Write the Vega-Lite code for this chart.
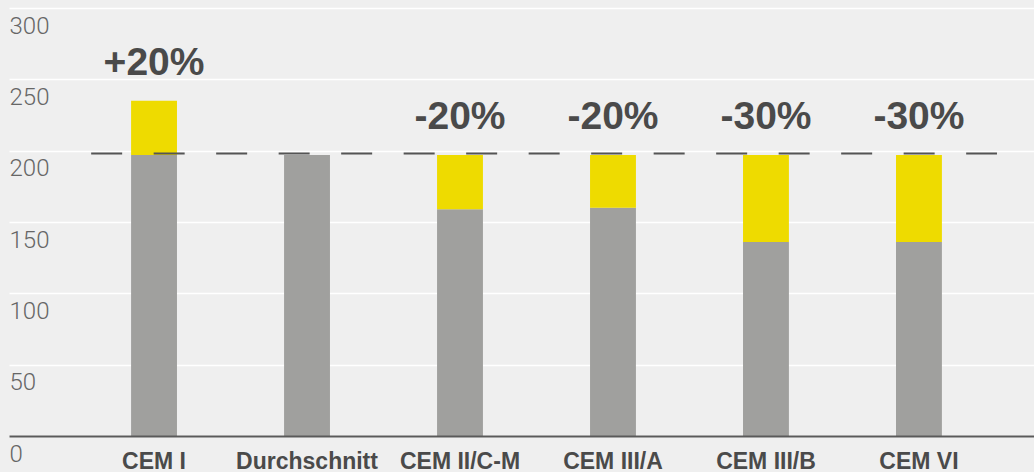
{
  "$schema": "https://vega.github.io/schema/vega-lite/v6.json",
  "width": 1025,
  "height": 428,
  "autosize": {"type": "none"},
  "padding": {"left": 9, "top": 8, "right": 0, "bottom": 36},
  "background": "#efefef",
  "config": {"view": {"stroke": null}},
  "datasets": {
    "bars": [
      {"Zement": "CEM I", "Teil": "Basis", "Wert": 197},
      {"Zement": "CEM I", "Teil": "Zuschlag", "Wert": 38},
      {"Zement": "Durchschnitt", "Teil": "Basis", "Wert": 197},
      {"Zement": "CEM II/C-M", "Teil": "Basis", "Wert": 159},
      {"Zement": "CEM II/C-M", "Teil": "Zuschlag", "Wert": 38},
      {"Zement": "CEM III/A", "Teil": "Basis", "Wert": 160},
      {"Zement": "CEM III/A", "Teil": "Zuschlag", "Wert": 37},
      {"Zement": "CEM III/B", "Teil": "Basis", "Wert": 136},
      {"Zement": "CEM III/B", "Teil": "Zuschlag", "Wert": 61},
      {"Zement": "CEM VI", "Teil": "Basis", "Wert": 136},
      {"Zement": "CEM VI", "Teil": "Zuschlag", "Wert": 61}
    ],
    "labels": [
      {"Zement": "CEM I", "Text": "+20%", "Oben": 235},
      {"Zement": "CEM II/C-M", "Text": "-20%", "Oben": 197},
      {"Zement": "CEM III/A", "Text": "-20%", "Oben": 197},
      {"Zement": "CEM III/B", "Text": "-30%", "Oben": 197},
      {"Zement": "CEM VI", "Text": "-30%", "Oben": 197}
    ],
    "ref": [{"Referenz": 198}]
  },
  "layer": [
    {
      "data": {"name": "bars"},
      "mark": {"type": "bar"},
      "encoding": {
        "x": {
          "field": "Zement",
          "type": "nominal",
          "sort": null,
          "scale": {
            "domain": ["CEM I", "Durchschnitt", "CEM II/C-M", "CEM III/A", "CEM III/B", "CEM VI"],
            "paddingInner": 0.7,
            "paddingOuter": 0.7,
            "align": 0.57
          },
          "axis": {
            "title": null,
            "domain": true,
            "domainColor": "#5a5a5a",
            "domainWidth": 2,
            "ticks": false,
            "tickSize": 0,
            "grid": false,
            "labelPadding": 14,
            "labelFont": "Liberation Sans",
            "labelFontWeight": "bold",
            "labelFontSize": 23,
            "labelColor": "#4a4a4a",
            "labelAngle": 0,
            "labelOverlap": false,
            "labelBound": false,
            "zindex": 1
          }
        },
        "y": {
          "field": "Wert",
          "type": "quantitative",
          "stack": "zero",
          "scale": {"domain": [0, 300], "nice": false},
          "axis": {
            "title": null,
            "values": [0, 50, 100, 150, 200, 250, 300],
            "domain": false,
            "ticks": false,
            "tickSize": 0,
            "grid": true,
            "gridColor": "#ffffff",
            "gridWidth": 1.5,
            "labelAlign": "left",
            "labelBaseline": "top",
            "labelPadding": 0,
            "labelOffset": 6,
            "labelFont": "Roboto",
            "labelFontWeight": 300,
            "labelFontSize": 24,
            "labelColor": "#666666",
            "labelOverlap": false,
            "labelBound": false
          }
        },
        "color": {
          "field": "Teil",
          "type": "nominal",
          "scale": {"domain": ["Basis", "Zuschlag"], "range": ["#a0a09e", "#eedb00"]},
          "legend": null
        },
        "order": {"field": "Teil", "sort": "ascending"}
      }
    },
    {
      "data": {"name": "ref"},
      "mark": {"type": "rule", "strokeDash": [31, 31.5], "strokeWidth": 2, "color": "#555555", "strokeCap": "butt"},
      "encoding": {
        "y": {"field": "Referenz", "type": "quantitative"},
        "x": {"datum": "CEM I", "bandPosition": -0.87},
        "x2": {"datum": "CEM VI", "bandPosition": 2.2}
      }
    },
    {
      "data": {"name": "labels"},
      "mark": {"type": "text", "font": "Liberation Sans", "fontWeight": "bold", "fontSize": 39, "color": "#4a4a4a", "baseline": "alphabetic", "align": "center", "dy": -26},
      "encoding": {
        "x": {"field": "Zement", "type": "nominal"},
        "y": {"field": "Oben", "type": "quantitative"},
        "text": {"field": "Text", "type": "nominal"}
      }
    }
  ]
}
